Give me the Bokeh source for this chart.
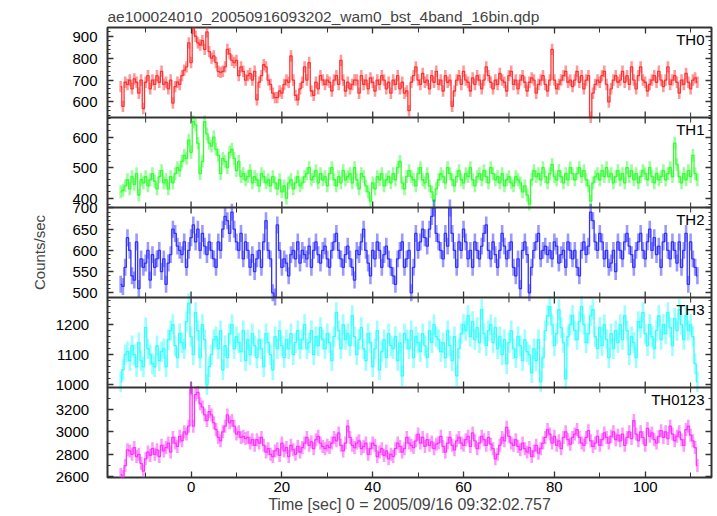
import numpy as np
from bokeh.plotting import figure
from bokeh.models import (Range1d, LinearAxis, SingleIntervalTicker, FixedTicker,
                          ColumnDataSource, Label, Span, CustomJSTickFormatter)
from bokeh.embed import file_html
from bokeh.resources import INLINE

t_start = -15.5
bin_size = 0.5

th0 = [670, 580, 690, 680, 700, 660, 705, 690, 640, 700, 570, 690, 720, 660, 700, 680, 720, 690, 740, 680,
       690, 660, 700, 595, 670, 690, 680, 720, 745, 760, 870, 780, 935, 900, 870, 860, 880, 840, 920, 830,
       800, 810, 780, 740, 735, 740, 760, 840, 820, 790, 780, 790, 720, 760, 740, 700, 720, 730, 700, 740,
       610, 690, 720, 770, 760, 700, 680, 640, 620, 620, 650, 640, 680, 700, 690, 810, 700, 630, 610, 660,
       690, 760, 700, 780, 650, 630, 690, 660, 720, 700, 680, 700, 690, 650, 700, 720, 680, 790, 700, 650,
       690, 660, 680, 700, 700, 640, 720, 680, 700, 660, 710, 690, 650, 700, 680, 720, 700, 660, 690, 640,
       700, 680, 720, 660, 690, 640, 650, 560, 690, 720, 760, 700, 680, 730, 690, 700, 660, 720, 690, 740,
       680, 700, 650, 720, 690, 700, 580, 650, 700, 720, 680, 740, 700, 690, 650, 710, 680, 720, 700, 660,
       700, 760, 720, 690, 660, 700, 680, 730, 700, 690, 650, 720, 740, 680, 700, 660, 700, 720, 690, 650,
       690, 710, 700, 640, 680, 700, 720, 680, 650, 700, 840, 700, 660, 680, 700, 720, 740, 690, 700, 670,
       700, 740, 690, 720, 660, 700, 720, 530, 640, 680, 700, 690, 720, 740, 680, 600, 660, 700, 720, 690,
       700, 740, 690, 720, 680, 760, 700, 660, 720, 760, 700, 690, 650, 680, 700, 720, 690, 740, 700, 670,
       700, 760, 680, 700, 720, 690, 640, 700, 680, 730, 690, 660, 700, 710, 690]

th1 = [420, 425, 440, 460, 430, 470, 445, 480, 410, 460, 450, 470, 440, 460, 480, 455, 430, 470, 490, 450,
       460, 430, 470, 450, 480, 500, 490, 520, 540, 530, 590, 550, 650, 640, 580, 480, 520, 650, 610, 580,
       570, 600, 560, 540, 480, 530, 520, 500, 550, 560, 530, 490, 520, 470, 480, 460, 470, 490, 450, 470,
       460, 440, 480, 470, 450, 460, 440, 470, 450, 430, 460, 420, 440, 400, 450, 460, 430, 450, 470, 440,
       450, 470, 480, 500, 460, 470, 490, 450, 480, 460, 470, 440, 480, 500, 460, 440, 470, 450, 490, 460,
       470, 480, 450, 500, 460, 430, 480, 470, 440, 420, 390, 450, 430, 470, 460, 480, 440, 460, 470, 450,
       480, 460, 500, 520, 450, 430, 470, 490, 470, 460, 440, 480, 500, 460, 450, 480, 440, 420, 390, 430,
       460, 480, 470, 450, 500, 480, 460, 440, 470, 490, 460, 450, 480, 470, 500, 460, 440, 470, 480, 460,
       490, 470, 450, 500, 480, 460, 470, 450, 480, 440, 460, 470, 450, 440, 470, 460, 450, 420, 440, 410,
       380, 460, 490, 470, 480, 460, 500, 470, 450, 480, 510, 470, 460, 490, 470, 450, 480, 460, 500, 480,
       460, 480, 500, 470, 490, 460, 440, 390, 450, 470, 480, 460, 490, 470, 500, 470, 480, 450, 470, 490,
       460, 480, 450, 500, 470, 490, 460, 480, 450, 470, 490, 480, 460, 500, 470, 450, 480, 460, 470, 490,
       460, 480, 500, 470, 580, 510, 470, 450, 480, 460, 490, 470, 540, 480, 460]

th2 = [520, 515, 560, 630, 600, 540, 530, 620, 510, 580, 560, 570, 600, 530, 590, 560, 580, 600, 550, 580,
       520, 570, 590, 650, 640, 610, 600, 590, 620, 560, 600, 630, 660, 620, 650, 600, 640, 610, 590, 620,
       600, 580, 560, 620, 600, 650, 680, 670, 640, 690, 650, 620, 600, 640, 580, 620, 600, 560, 590, 550,
       580, 600, 560, 620, 670, 600, 580, 500, 490, 660, 600, 560, 580, 570, 540, 590, 600, 580, 620, 570,
       600, 590, 580, 610, 560, 600, 620, 590, 570, 600, 610, 580, 560, 600, 620, 640, 600, 580, 560, 590,
       610, 580, 560, 530, 600, 590, 620, 650, 600, 570, 540, 600, 580, 620, 600, 560, 590, 610, 580, 560,
       540, 520, 580, 600, 620, 560, 580, 600, 500, 560, 640, 600, 620, 650, 630, 610, 650, 680, 700, 640,
       620, 600, 580, 640, 610, 700, 640, 600, 560, 620, 600, 650, 620, 580, 600, 560, 620, 600, 580, 610,
       640, 660, 600, 580, 620, 590, 560, 600, 640, 610, 580, 600, 620, 560, 540, 580, 510, 600, 620, 590,
       500, 560, 600, 620, 640, 580, 600, 610, 590, 600, 580, 620, 610, 570, 590, 600, 560, 620, 600, 580,
       600, 560, 540, 600, 620, 590, 610, 690, 670, 620, 600, 640, 620, 580, 600, 560, 570, 600, 550, 620,
       600, 580, 620, 640, 610, 590, 560, 600, 620, 640, 600, 580, 620, 650, 600, 630, 590, 610, 560, 620,
       640, 600, 580, 620, 600, 570, 620, 560, 600, 640, 520, 620, 580, 560, 540]

th3 = [1010, 1050, 1100, 1110, 1080, 1130, 1100, 1060, 1140, 1080, 1060, 1190, 1120, 1100, 1070, 1060, 1130, 1080, 1110, 1120,
       1060, 1150, 1180, 1200, 1130, 1090, 1170, 1140, 1120, 1210, 1270, 1160, 1100, 1240, 1180, 1090, 1200, 1150, 1000, 1060,
       1100, 1150, 1160, 1120, 1180, 1050, 1130, 1090, 1170, 1200, 1120, 1160, 1140, 1110, 1180, 1080, 1150, 1100, 1170, 1130,
       1090, 1150, 1120, 1060, 1170, 1140, 1100, 1050, 1160, 1120, 1180, 1130, 1090, 1150, 1120, 1170, 1100, 1140, 1180, 1120,
       1150, 1200, 1120, 1140, 1180, 1100, 1160, 1130, 1190, 1150, 1120, 1170, 1140, 1080, 1160, 1240, 1180, 1120, 1200, 1150,
       1170, 1130, 1230, 1160, 1100, 1150, 1190, 1120, 1080, 1170, 1140, 1060, 1120, 1180, 1050, 1110, 1150, 1090, 1170, 1130,
       1120, 1160, 1080, 1140, 1030, 1170, 1150, 1120, 1180, 1090, 1160, 1140, 1110, 1170, 1130, 1090, 1180, 1140, 1200, 1160,
       1150, 1110, 1140, 1090, 1180, 1130, 1080, 1160, 1030, 1120, 1170, 1200, 1180, 1230, 1160, 1210, 1150, 1190, 1140, 1250,
       1170, 1130, 1180, 1200, 1140, 1190, 1120, 1160, 1100, 1150, 1070, 1140, 1180, 1120, 1090, 1160, 1130, 1080, 1150, 1110,
       1100, 1040, 1120, 1080, 1150, 1010, 1090, 1180, 1230, 1260, 1200, 1130, 1170, 1250, 1190, 1140, 1020, 1160, 1200, 1230,
       1180, 1150, 1210, 1260, 1200, 1140, 1170, 1230, 1250, 1160, 1120, 1190, 1130, 1200, 1150, 1090, 1170, 1120, 1180, 1140,
       1200, 1150, 1230, 1180, 1100, 1160, 1140, 1090, 1210, 1190, 1240, 1170, 1130, 1200, 1160, 1120, 1180, 1230, 1150, 1200,
       1170, 1240, 1190, 1130, 1220, 1180, 1250, 1200, 1150, 1230, 1180, 1200, 1160, 1070, 1010]

th0123 = [2620, 2600, 2700, 2840, 2830, 2800, 2860, 2780, 2800, 2720, 2650, 2760, 2820, 2790, 2850, 2800, 2840, 2780, 2880, 2830,
          2860, 2900, 2820, 2950, 2900, 2870, 2960, 2920, 3000, 2980, 3050, 3380, 3050, 3330, 3350, 3250, 3220, 3150, 3100, 3180,
          3150, 3080, 3020, 2950, 2920, 3000, 3050, 3150, 3080, 3100, 3050, 2980, 3000, 2950, 2960, 2940, 2950, 2900, 2930, 2880,
          2930, 2900, 2950, 2880, 2820, 2850, 2800, 2780, 2830, 2850, 2790, 2900, 2830, 2860, 2780, 2880, 2840, 2800, 2870, 2820,
          2860, 2900, 2950, 2880, 2910, 2850, 2930, 2960, 2900, 2870, 2850, 2880, 2860, 2900, 2950, 2920, 2990, 2880, 2830, 2900,
          3050, 2950, 2880, 2860, 2900, 2920, 2850, 2870, 2900, 2800, 2850, 2900, 2880, 2780, 2820, 2850, 2790, 2830, 2760, 2800,
          2780, 2850, 2900, 2870, 2820, 2850, 2950, 2900, 2880, 2860, 2920, 2980, 2900, 2950, 2870, 2930, 2880, 2910, 2850, 2890,
          2900, 2960, 2870, 2820, 2900, 2950, 2880, 2840, 2920, 2950, 2900, 2880, 2930, 2960, 2870, 2990, 2920, 2850, 2900, 2960,
          2930, 2880, 2950, 2890, 2850, 2760, 2800, 2880, 2950, 2920, 3040, 2960, 2900, 2880, 2930, 2870, 2840, 2900, 2850, 2820,
          2860, 2780, 2830, 2880, 2810, 2850, 2900, 2950, 3020, 2980, 2900, 2960, 2880, 2920, 2850, 2950, 3000, 2930, 2890, 2950,
          2980, 3020, 2950, 2900, 2880, 2950, 3010, 2920, 2870, 2900, 2960, 2880, 2930, 2990, 2950, 2900, 2960, 3000, 2930, 2970,
          2920, 2980, 2880, 2950, 3000, 2940, 3100, 2980, 2920, 3000, 2950, 2880, 3030, 2960, 2990, 2930, 2900, 2960, 3010, 2950,
          3000, 2940, 3050, 2980, 2920, 2960, 3000, 2930, 2880, 3020, 3050, 2970, 2920, 2860, 2700]

names = ["TH0", "TH1", "TH2", "TH3", "TH0123"]
series = [th0, th1, th2, th3, th0123]
errors = [26, 21, 20, 34, 58]
y_lims = [(529, 940), (369, 664), (489, 701), (991, 1290), (2594, 3394)]
y_major = [100, 100, 50, 100, 200]
y_minor = [20, 20, 10, 20, 100]
colors = ["#ff3333", "#33ff33", "#3333ff", "#33ffff", "#ff33ff"]
x_tick_major = 20
x_tick_minor = 10

title_text = "ae100024010_20050916093202_wam0_bst_4band_16bin.qdp"
x_label = "Time [sec] 0 = 2005/09/16 09:32:02.757"
y_label = "Counts/sec"

FONT = "Liberation Sans"
NP = len(names)
tick_col = "#333333"
xr = Range1d(-18.4, 114.6)

p = figure(width=717, height=515, x_range=xr, y_range=Range1d(0, NP),
           output_backend="svg", toolbar_location=None,
           min_border_left=107, min_border_right=6, min_border_top=27, min_border_bottom=38)
p.grid.visible = False
p.outline_line_color = tick_col
p.outline_line_width = 2
p.background_fill_color = "white"
p.border_fill_color = "white"

p.title.text = title_text
p.title.text_font = FONT
p.title.text_font_size = "15.5px"
p.title.text_font_style = "normal"
p.title.align = "left"
p.title.standoff = 5

# panel scales: each panel occupies one band of the shared frame
major_pos, minor_pos = [], []
for k in range(NP):
    lo, hi = y_lims[k]
    span = hi - lo
    b = NP - 1 - k
    p.extra_y_ranges[names[k]] = Range1d(lo - b * span, hi + (NP - 1 - b) * span)
    mj = np.arange(np.ceil(lo / y_major[k]) * y_major[k], hi + 1e-9, y_major[k])
    mn = np.arange(np.ceil(lo / y_minor[k]) * y_minor[k], hi + 1e-9, y_minor[k])
    major_pos += [float(b + (v - lo) / span) for v in mj]
    minor_pos += [float(b + (v - lo) / span) for v in mn]

fmt = CustomJSTickFormatter(
    args=dict(lo=[l for l, h in y_lims], hi=[h for l, h in y_lims], n=NP),
    code="""
const b = Math.floor(tick + 1e-9);
const k = n - 1 - b;
const v = Math.round(lo[k] + (tick - b) * (hi[k] - lo[k]));
const s = v.toString();
return s.length > 3 ? s + "\\u00a0\\u00a0" : s;
""")


def style_axis(ax, show_labels, major_in, minor_in):
    ax.axis_line_color = None
    ax.major_tick_in = major_in
    ax.major_tick_out = 0
    ax.minor_tick_in = minor_in
    ax.minor_tick_out = 0
    ax.major_tick_line_color = tick_col
    ax.minor_tick_line_color = tick_col
    ax.major_tick_line_width = 1.3
    ax.minor_tick_line_width = 1.0
    ax.major_label_text_font = FONT
    ax.major_label_text_color = "black"
    ax.major_label_text_font_size = "15px"
    if not show_labels:
        ax.major_label_text_font_size = "0px"
        ax.major_label_text_color = None
        ax.major_label_standoff = 0


# x axes
xb = p.xaxis[0]
xb.ticker = SingleIntervalTicker(interval=x_tick_major, num_minor_ticks=2)
style_axis(xb, True, 6, 5)
xb.major_label_standoff = 4
xb.axis_label = x_label
xb.axis_label_text_font = FONT
xb.axis_label_text_font_size = "16px"
xb.axis_label_text_font_style = "normal"
xb.axis_label_standoff = 1
xa = LinearAxis(ticker=SingleIntervalTicker(interval=x_tick_major, num_minor_ticks=2))
style_axis(xa, False, 6, 5)
p.add_layout(xa, "above")

# y axes
yl = p.yaxis[0]
yl.ticker = FixedTicker(ticks=major_pos, minor_ticks=minor_pos)
yl.formatter = fmt
style_axis(yl, True, 6, 3)
yl.major_label_standoff = 10
yl.axis_label = y_label
yl.axis_label_text_font = FONT
yl.axis_label_text_font_size = "15px"
yl.axis_label_text_font_style = "normal"
yl.axis_label_standoff = 5
yr = LinearAxis(ticker=FixedTicker(ticks=major_pos, minor_ticks=minor_pos))
style_axis(yr, False, 6, 3)
p.add_layout(yr, "right")

# panel separators with their ticks
for b in range(1, NP):
    p.add_layout(Span(location=b, dimension="width", line_color=tick_col, line_width=2))
xt_major = np.arange(0, xr.end, x_tick_major)
xt_all = np.arange(np.ceil(xr.start / x_tick_minor) * x_tick_minor, xr.end, x_tick_minor)
xt_minor = np.array([v for v in xt_all if v % x_tick_major != 0])
bnd = np.arange(1, NP)
for xs, ln in ((xt_major, 6), (xt_minor, 5)):
    gx = np.repeat(xs[None, :], len(bnd), axis=0).ravel()
    gy = np.repeat(bnd[:, None], len(xs), axis=1).ravel().astype(float)
    p.ray(x=gx, y=gy, length=ln, length_units="screen", angle=np.pi / 2,
          line_color=tick_col, line_width=1.3 if ln == 6 else 1.0)
    p.ray(x=gx, y=gy, length=ln, length_units="screen", angle=-np.pi / 2,
          line_color=tick_col, line_width=1.3 if ln == 6 else 1.0)

for k in range(NP):
    vals = np.array(series[k], dtype=float)
    t = t_start + bin_size * np.arange(len(vals))
    src = ColumnDataSource(dict(t=t, v=vals, lo=vals - errors[k], hi=vals + errors[k]))
    p.segment(x0="t", y0="lo", x1="t", y1="hi", source=src, y_range_name=names[k],
              line_color=colors[k], line_width=2.6, line_alpha=0.5)
    p.step(x="t", y="v", source=src, mode="center", y_range_name=names[k],
           line_color=colors[k], line_width=1.3)
    p.add_layout(Label(x=xr.end, y=y_lims[k][1], y_range_name=names[k],
                       x_offset=-7, y_offset=-3, text=names[k],
                       text_align="right", text_baseline="top",
                       text_font=FONT, text_font_size="15px", text_color="black"))

open("out.html", "w").write(file_html(p, INLINE))
